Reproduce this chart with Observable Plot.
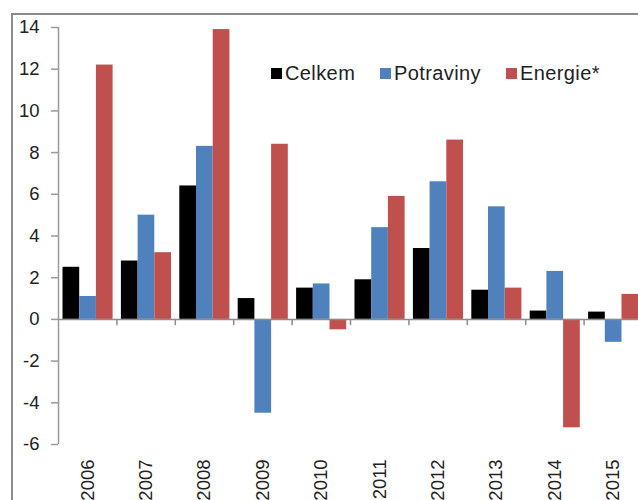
<!DOCTYPE html>
<html><head><meta charset="utf-8">
<script src="https://cdn.jsdelivr.net/npm/d3@7"></script>
<script src="https://cdn.jsdelivr.net/npm/@observablehq/plot@0.6"></script>
<style>
html,body{margin:0;padding:0;background:#fff;overflow:hidden;width:638px;height:500px;}
#wrap{position:relative;width:638px;height:500px;overflow:hidden;font-family:"Liberation Sans",Arial,sans-serif;}
#chart{position:absolute;left:0;top:0;}
#border{position:absolute;left:11px;top:13px;width:700px;height:600px;border:2px solid #8c8c8c;box-sizing:border-box;pointer-events:none;}
.item{position:absolute;top:62px;height:23px;line-height:23px;display:flex;align-items:center;font-size:20px;color:#222;letter-spacing:0.4px;white-space:nowrap;}
.sw{width:11px;height:11px;margin-right:3px;flex:none;}
</style></head><body>
<div id="wrap"><div id="chart"></div><div id="legend"></div><div id="border"></div></div>
<script>
const years = ["2006","2007","2008","2009","2010","2011","2012","2013","2014","2015"];
const series = ["Celkem","Potraviny","Energie*"];
const colors = ["#000000","#4F81BD","#C0504D"];
const celkem    = [2.5, 2.8, 6.4, 1.0, 1.5, 1.9, 3.4, 1.4, 0.4, 0.35];
const potraviny = [1.1, 5.0, 8.3, -4.5, 1.7, 4.4, 6.6, 5.4, 2.3, -1.1];
const energie   = [12.2, 3.2, 13.9, 8.4, -0.5, 5.9, 8.6, 1.5, -5.2, 1.2];
const yTicks = [-6, -4, -2, 0, 2, 4, 6, 8, 10, 12, 14];

// grouped layout within each year band (data units of the linear x scale)
const groupPad = 0.077, barW = 0.286;
const valuesBySeries = [celkem, potraviny, energie];
const table = [];
years.forEach((yr, i) => {
  series.forEach((s, j) => {
    table.push({year: yr, series: s, value: valuesBySeries[j][i],
      x1: i + groupPad + j * barW, x2: i + groupPad + (j + 1) * barW});
  });
});
const centers = years.map((_, i) => i + 0.5);
const bounds = d3.range(1, years.length + 1);

const chart = Plot.plot({
  width: 642, height: 500,
  marginLeft: 58, marginRight: 0, marginTop: 27, marginBottom: 56,
  style: {background: "transparent", maxWidth: "none", overflow: "visible",
          fontFamily: "'Liberation Sans', Arial, sans-serif", fontSize: "18.5px", color: "#222"},
  x: {domain: [0, years.length], axis: null},
  y: {domain: [-6, 14], axis: null},
  color: {domain: series, range: colors},
  marks: [
    Plot.rectY(table, {x1: "x1", x2: "x2", y: "value", fill: "series"}),
    Plot.ruleY([0], {stroke: "#8c8c8c", strokeWidth: 1.5}),
    Plot.ruleX(bounds, {y1: 0, y2: -0.3, stroke: "#8c8c8c", strokeWidth: 1.5}),
    Plot.ruleX([0], {y1: -6, y2: 14, stroke: "#9a9a9a", strokeWidth: 1.5}),
    Plot.axisY({ticks: yTicks, tickSize: 7, tickPadding: 12, stroke: "#9a9a9a", strokeWidth: 1.5, fill: "#222", label: null, tickFormat: d => String(d)}),
    Plot.axisX({ticks: centers, tickFormat: d => years[Math.round(d - 0.5)], tickRotate: -90, tickSize: 0, tickPadding: 15, fill: "#222", label: null})
  ]
});
document.getElementById("chart").appendChild(chart);

const legend = document.getElementById("legend");
const lefts = [271, 380, 506];
series.forEach((s, j) => {
  const it = document.createElement("div");
  it.className = "item";
  it.style.left = lefts[j] + "px";
  const sw = document.createElement("span");
  sw.className = "sw";
  sw.style.background = colors[j];
  const t = document.createElement("span");
  t.textContent = s;
  it.appendChild(sw); it.appendChild(t);
  legend.appendChild(it);
});
</script>
</body></html>
